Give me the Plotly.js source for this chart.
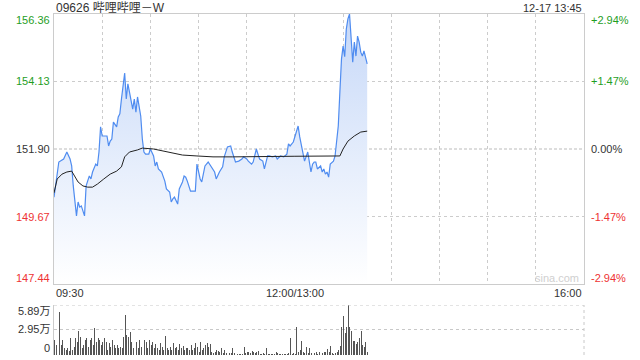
<!DOCTYPE html>
<html>
<head>
<meta charset="utf-8">
<script src="https://cdn.plot.ly/plotly-3.0.1.min.js"></script>
<style>html,body{margin:0;padding:0;background:#fff;}#chart{width:640px;height:360px;}</style>
</head>
<body>
<div id="chart"></div>
<script>
// ---------- data ----------
const stockTitle = "09626 哔哩哔哩－W";
const stamp = "12-17 13:45";
const prevClose = 151.90;
const priceTicks = [147.44, 149.67, 151.90, 154.13, 156.36];
const volTicks = [0, 2.95, 5.89];
const xLabels = ["09:30", "12:00/13:00", "16:00"];
const gridTimes = ["10:00","10:30","11:00","11:30","13:00","13:30","14:00","14:30","15:00","15:30"];

const priceTimes = ["09:30","09:33","09:34","09:36","09:38","09:40","09:41","09:42","09:44","09:45","09:46","09:47","09:49","09:50","09:52","09:53","09:54","09:56","09:57","09:58","09:59","10:00","10:03","10:04","10:05","10:06","10:07","10:09","10:10","10:11","10:12","10:14","10:15","10:16","10:17","10:19","10:20","10:21","10:22","10:23","10:24","10:25","10:26","10:27","10:29","10:30","10:32","10:33","10:34","10:35","10:37","10:39","10:40","10:42","10:43","10:44","10:45","10:47","10:48","10:50","10:51","10:52","10:53","10:55","10:56","10:58","10:59","11:01","11:02","11:04","11:06","11:08","11:10","11:11","11:13","11:15","11:16","11:18","11:20","11:21","11:23","11:25","11:27","11:28","11:30","11:31","11:33","11:34","11:36","11:37","11:38","11:40","11:41","11:43","11:44","11:46","11:48","11:49","11:51","11:53","11:55","11:56","11:57","11:59","13:00","13:02","13:03","13:04","13:05","13:06","13:08","13:09","13:10","13:11","13:12","13:13","13:14","13:16","13:17","13:18","13:19","13:20","13:21","13:22","13:23","13:24","13:25","13:26","13:27","13:28","13:29","13:30","13:31","13:32","13:33","13:34","13:35","13:36","13:37","13:38","13:39","13:40","13:41","13:42","13:43","13:44","13:45"];
const prices = [150.31,151.47,151.50,151.57,151.80,151.57,151.34,150.68,149.69,150.15,149.98,150.02,149.69,150.68,151.01,150.91,151.14,151.40,151.34,151.80,152.63,152.33,152.33,152.00,152.16,152.23,152.79,152.63,152.96,153.06,153.55,154.41,153.55,154.05,153.78,153.22,153.55,153.12,153.62,153.22,152.99,152.23,151.80,151.73,151.73,151.90,151.67,151.34,151.47,151.24,151.14,150.84,150.58,150.48,150.15,150.25,150.31,150.08,150.58,150.81,151.01,150.97,150.84,150.51,150.51,150.51,151.40,150.91,150.81,151.34,151.47,151.31,151.14,150.91,151.14,151.31,151.64,151.97,152.00,151.80,151.47,151.50,151.57,151.64,151.57,151.50,151.40,151.47,151.90,151.73,151.57,151.50,151.24,151.67,151.67,151.64,151.67,151.57,151.67,151.64,151.73,152.07,152.00,152.13,152.33,152.66,152.30,152.00,151.67,151.50,151.80,151.47,151.14,151.40,151.47,151.47,151.24,151.34,151.14,151.24,151.07,151.14,150.97,151.40,151.47,151.50,151.67,152.13,152.66,153.78,154.87,155.30,154.95,155.86,156.20,156.36,155.63,154.77,155.43,154.97,155.63,155.43,155.10,154.97,155.14,154.87,154.71];

const avgTimes = ["09:30","09:32","09:35","09:38","09:41","09:43","09:45","09:48","09:51","09:54","09:57","10:01","10:05","10:09","10:12","10:14","10:17","10:22","10:25","10:32","10:38","10:44","10:50","10:59","11:09","11:21","11:38","11:59","13:00","13:28","13:30","13:33","13:37","13:41","13:45"];
const avgPrices = [150.45,150.91,151.07,151.14,151.17,151.01,150.81,150.68,150.64,150.64,150.74,150.91,151.07,151.17,151.31,151.64,151.80,151.87,151.93,151.90,151.83,151.77,151.70,151.67,151.64,151.64,151.64,151.65,151.66,151.67,151.90,152.16,152.33,152.46,152.49];

// volume per minute (万), from 09:30
const volumes = [1.77,1.18,0.6,5.10,1.18,1.77,0.79,0.59,0.79,0.5,
1.96,0.59,0.98,1.96,1.57,2.83,2.16,0.79,1.18,1.77,
1.96,0.98,1.77,1.96,1.18,3.14,1.57,1.96,1.77,1.18,
1.57,1.96,1.57,0.6,1.37,0.98,1.77,1.18,0.79,1.18,
0.79,0.98,0.79,2.16,4.71,2.36,2.16,2.75,1.57,0.79,
1.18,1.57,0.79,1.77,0.98,0.79,1.77,1.57,0.79,1.77,
1.18,1.57,0.79,1.26,0.86,0.59,1.37,0.98,0.59,2.28,
0.79,0.59,0.98,0.59,1.37,0.79,0.98,0.59,1.26,0.79,
1.10,0.59,0.86,0.79,0.59,1.18,0.59,0.79,1.45,0.98,
0.4,1.57,0.59,0.79,1.18,1.37,0.98,1.26,0.31,0.20,
0.3,0.59,0.47,0.31,0.79,0.2,0.59,0.2,2.95,0.20,
0.20,0.79,0.20,0.08,0.1,0.08,0.08,0.1,0.98,0.20,
0.39,0.31,0.20,0.47,0.31,0.20,0.39,0.47,0.1,0.08,
0.20,0.12,0.86,0.1,0.08,0.08,0.12,0.1,0.31,0.20,
0.16,0.08,0.12,0.08,0.1,0.12,0.20,1.96,0.1,0.20,
0.08,3.30,0.39,0.59,1.65,0.31,0.2,0.98,0.20,0.79,
0.2,1.49,0.2,0.31,0.16,0.31,0.79,0.20,0.31,0.39,
0.71,0.3,1.10,0.2,0.16,0.20,0.39,0.59,1.10,3.33,
4.63,2.55,3.33,5.89,3.25,2.83,1.65,1.65,1.26,1.57,
1.96,2.83,1.18,0.98,1.57,0.31];

// ---------- helpers ----------
function idx(s){ const p=s.split(':').map(Number); const m=p[0]*60+p[1]; return m<=720 ? m-570 : m-780+150; }
const W=640, H=360;
const px = v => v/W, py = v => 1 - v/H;
const GREEN='#1f9e1f', RED='#ee3333', DARK='#333333';
const FONT='Arial, "Liberation Sans", "Noto Sans CJK SC", sans-serif';
const sessionEnd = idx("16:00");

const priceX = priceTimes.map(idx);
const avgX = avgTimes.map(idx);
const volX = volumes.map((v,i)=>i);

const traces = [
  {x: priceX, y: prices, type:'scatter', mode:'lines', xaxis:'x', yaxis:'y',
   line:{color:'#4f8cf0', width:1.2}, fill:'tozeroy',
   fillgradient:{type:'vertical', start:priceTicks[0], stop:priceTicks[4],
     colorscale:[[0,'rgba(255,255,255,1)'],[1,'rgba(198,216,248,1)']]},
   hoverinfo:'skip'},
  {x: avgX, y: avgPrices, type:'scatter', mode:'lines', xaxis:'x', yaxis:'y',
   line:{color:'#222', width:1}, hoverinfo:'skip'},
  {x: volX, y: volumes, type:'bar', xaxis:'x2', yaxis:'y2', width:0.6,
   marker:{color:'#555', line:{width:0}}, hoverinfo:'skip'}
];

const ann = [];
function colorFor(v){ return Math.abs(v-prevClose)<1e-9 ? DARK : (v>prevClose ? GREEN : RED); }
priceTicks.forEach((v,i)=>{
  const shift = i===0 ? 6 : (i===priceTicks.length-1 ? -6 : 0);
  ann.push({xref:'paper', yref:'y', x:px(52), y:v, xanchor:'right', yanchor:'middle', yshift:shift,
    text:v.toFixed(2), showarrow:false, font:{size:11, color:colorFor(v), family:FONT}});
  const pct = (v-prevClose)/prevClose*100;
  const t = (pct>0.001?'+':'') + pct.toFixed(2) + '%';
  ann.push({xref:'paper', yref:'y', x:px(589), y:v, xanchor:'left', yanchor:'middle', yshift:shift,
    text:t, showarrow:false, font:{size:11, color:colorFor(v), family:FONT}});
});
xLabels.forEach((s,i)=>{
  const parts = s.split('/');
  ann.push({xref:'x', yref:'paper', x: idx(parts[parts.length-1]), y:py(293),
    xanchor: i===0?'left':(i===xLabels.length-1?'right':'center'), yanchor:'middle',
    text:s, showarrow:false, font:{size:11, color:DARK, family:FONT}});
});
volTicks.forEach((v,i)=>{
  const shift = i===0 ? 7 : (i===volTicks.length-1 ? -6 : 1);
  ann.push({xref:'paper', yref:'y2', x:px(52), y:v, xanchor:'right', yanchor:'middle', yshift:shift,
    text: v===0 ? '0' : v.toFixed(2)+'万', showarrow:false, font:{size:11, color:DARK, family:FONT}});
});
ann.push({xref:'paper', yref:'paper', x:px(54), y:py(8), xanchor:'left', yanchor:'middle',
  text:stockTitle, showarrow:false, font:{size:12, color:DARK, family:FONT}});
ann.push({xref:'paper', yref:'paper', x:px(584), y:py(8), xanchor:'right', yanchor:'middle',
  text:stamp, showarrow:false, font:{size:11, color:DARK, family:FONT}});
ann.push({xref:'paper', yref:'paper', x:px(581), y:py(278), xanchor:'right', yanchor:'middle',
  text:'sina.com', showarrow:false, font:{size:11, color:'#d0d0d0', family:FONT}});

const shapes = [
  {type:'line', xref:'x', yref:'y', x0:0, x1:sessionEnd, y0:prevClose, y1:prevClose,
   line:{color:'#bbbbbb', width:1, dash:'3px,2px'}, layer:'below'},
  {type:'line', xref:'paper', yref:'y2', x0:px(54), x1:px(584), y0:volTicks[2], y1:volTicks[2],
   line:{color:'#c8c8c8', width:1, dash:'dot'}},
  {type:'line', xref:'paper', yref:'paper', x0:px(584), x1:px(584), y0:py(355), y1:py(305),
   line:{color:'#c8c8c8', width:1, dash:'dot'}}
];

const layout = {
  width:W, height:H, margin:{l:0,r:0,t:0,b:0}, showlegend:false,
  paper_bgcolor:'#fff', plot_bgcolor:'#fff', bargap:0,
  font:{family:FONT},
  xaxis:{domain:[px(54),px(584)], range:[0,sessionEnd], anchor:'y', tickvals:gridTimes.map(idx),
    showticklabels:false, ticks:'', showgrid:true, gridcolor:'#cccccc', griddash:'dot', gridwidth:1,
    showline:true, mirror:true, linecolor:'#cccccc', linewidth:1, zeroline:false, fixedrange:true},
  yaxis:{domain:[py(284),py(14)], range:[priceTicks[0],priceTicks[4]], anchor:'x',
    tickvals:[priceTicks[1],priceTicks[3]], showticklabels:false, ticks:'', showgrid:true,
    gridcolor:'#cccccc', griddash:'dot', gridwidth:1, showline:true, mirror:true,
    linecolor:'#cccccc', linewidth:1, zeroline:false, fixedrange:true},
  xaxis2:{domain:[px(54),px(584)], range:[-0.5,sessionEnd], anchor:'y2', showticklabels:false,
    ticks:'', showgrid:false, showline:false, zeroline:false, fixedrange:true},
  yaxis2:{domain:[py(355),py(305)], range:[0,volTicks[2]], anchor:'x2', tickvals:[volTicks[1]],
    showticklabels:false, ticks:'', showgrid:true, gridcolor:'#c8c8c8', griddash:'dot', gridwidth:1,
    showline:true, linecolor:'#cccccc', linewidth:1, zeroline:false, fixedrange:true},
  annotations:ann, shapes:shapes
};
Plotly.newPlot('chart', traces, layout, {staticPlot:true, displayModeBar:false});
</script>
</body>
</html>
